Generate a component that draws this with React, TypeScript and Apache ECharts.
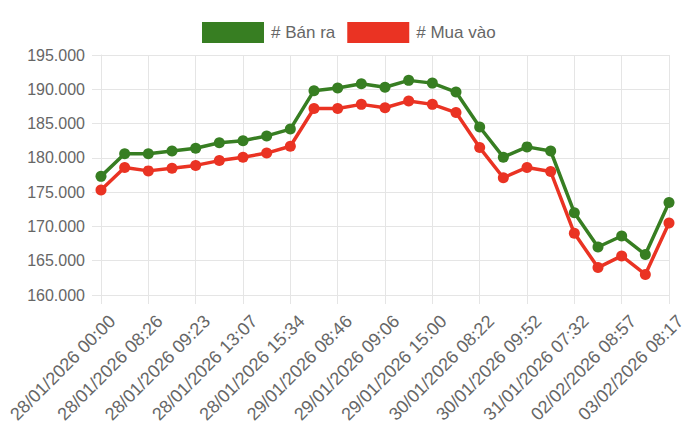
import React, { useEffect, useRef } from "react";
import * as echarts from "echarts";

const categories: string[] = [
  "28/01/2026 00:00",
  "28/01/2026 08:05",
  "28/01/2026 08:26",
  "28/01/2026 08:51",
  "28/01/2026 09:23",
  "28/01/2026 10:40",
  "28/01/2026 13:07",
  "28/01/2026 14:20",
  "28/01/2026 15:34",
  "29/01/2026 08:30",
  "29/01/2026 08:46",
  "29/01/2026 08:55",
  "29/01/2026 09:06",
  "29/01/2026 11:30",
  "29/01/2026 15:00",
  "30/01/2026 08:00",
  "30/01/2026 08:22",
  "30/01/2026 09:05",
  "30/01/2026 09:52",
  "30/01/2026 14:10",
  "31/01/2026 07:32",
  "01/02/2026 09:40",
  "02/02/2026 08:57",
  "02/02/2026 14:30",
  "03/02/2026 08:17",
];

const banRa: number[] = [
  177300, 180600, 180600, 181000, 181400, 182200, 182500, 183200, 184200,
  189800, 190200, 190800, 190300, 191300, 190900, 189600, 184500, 180100,
  181600, 181000, 172000, 167000, 168600, 165900, 173500,
];

const muaVao: number[] = [
  175300, 178600, 178100, 178500, 178900, 179600, 180100, 180700, 181700,
  187200, 187200, 187800, 187300, 188300, 187800, 186600, 181500, 177100,
  178600, 178000, 169000, 164000, 165700, 163000, 170500,
];

const yTicks = { min: 160000, max: 195000, interval: 5000 };

const GREEN = "#377e22";
const RED = "#ea3323";
const TEXT = "#666666";
const GRID = "#e5e5e5";
const FONT = "'Liberation Sans', Arial, Helvetica, sans-serif";

function fmt(v: number): string {
  const s = Math.round(v).toString();
  return s.replace(/\B(?=(\d{3})+(?!\d))/g, ".");
}

export default function App() {
  const ref = useRef<HTMLDivElement>(null);
  useEffect(() => {
    if (!ref.current) return;
    const chart = echarts.init(ref.current, undefined, { renderer: "svg" });
    chart.setOption({
      animation: false,
      backgroundColor: "#ffffff",
      textStyle: { fontFamily: FONT },
      legend: {
        top: 22,
        left: 202,
        padding: 0,
        icon: "rect",
        itemWidth: 62,
        itemHeight: 21,
        itemGap: 12,
        textStyle: { color: TEXT, fontSize: 17, fontFamily: FONT, padding: [0, 0, 0, 2] },
        data: [
          { name: "# Bán ra", itemStyle: { color: GREEN, borderWidth: 0 } },
          { name: "# Mua vào", itemStyle: { color: RED, borderWidth: 0 } },
        ],
      },
      grid: { left: 101, right: 31, top: 55, bottom: 148, containLabel: false },
      xAxis: {
        type: "category",
        data: categories,
        boundaryGap: false,
        axisLine: { show: true, lineStyle: { color: GRID, width: 1 } },
        axisTick: { show: true, interval: 1, length: 9, lineStyle: { color: GRID } },
        splitLine: { show: true, interval: 1, lineStyle: { color: GRID, width: 1 } },
        axisLabel: {
          interval: 1,
          rotate: 45,
          margin: 12,
          verticalAlign: "top",
          padding: [7, 0, 0, 0],
          color: TEXT,
          fontSize: 18,
          fontFamily: FONT,
        },
      },
      yAxis: {
        type: "value",
        min: yTicks.min,
        max: yTicks.max,
        interval: yTicks.interval,
        axisLine: { show: true, lineStyle: { color: GRID, width: 1 } },
        axisTick: { show: true, length: 9, lineStyle: { color: GRID } },
        splitLine: { show: true, lineStyle: { color: GRID, width: 1 } },
        axisLabel: {
          color: TEXT,
          fontSize: 16,
          fontFamily: FONT,
          margin: 16,
          formatter: (v: number) => fmt(v),
        },
      },
      series: [
        {
          name: "# Bán ra",
          type: "line",
          data: banRa,
          symbol: "circle",
          symbolSize: 11,
          showAllSymbol: true,
          lineStyle: { color: GREEN, width: 3.5 },
          itemStyle: { color: GREEN, borderWidth: 0 },
          z: 3,
        },
        {
          name: "# Mua vào",
          type: "line",
          data: muaVao,
          symbol: "circle",
          symbolSize: 11,
          showAllSymbol: true,
          lineStyle: { color: RED, width: 3.5 },
          itemStyle: { color: RED, borderWidth: 0 },
          z: 2,
        },
      ],
    });
    return () => chart.dispose();
  }, []);
  return (
    <div
      ref={ref}
      style={{ position: "fixed", left: 0, top: 0, width: 700, height: 443 }}
    />
  );
}
